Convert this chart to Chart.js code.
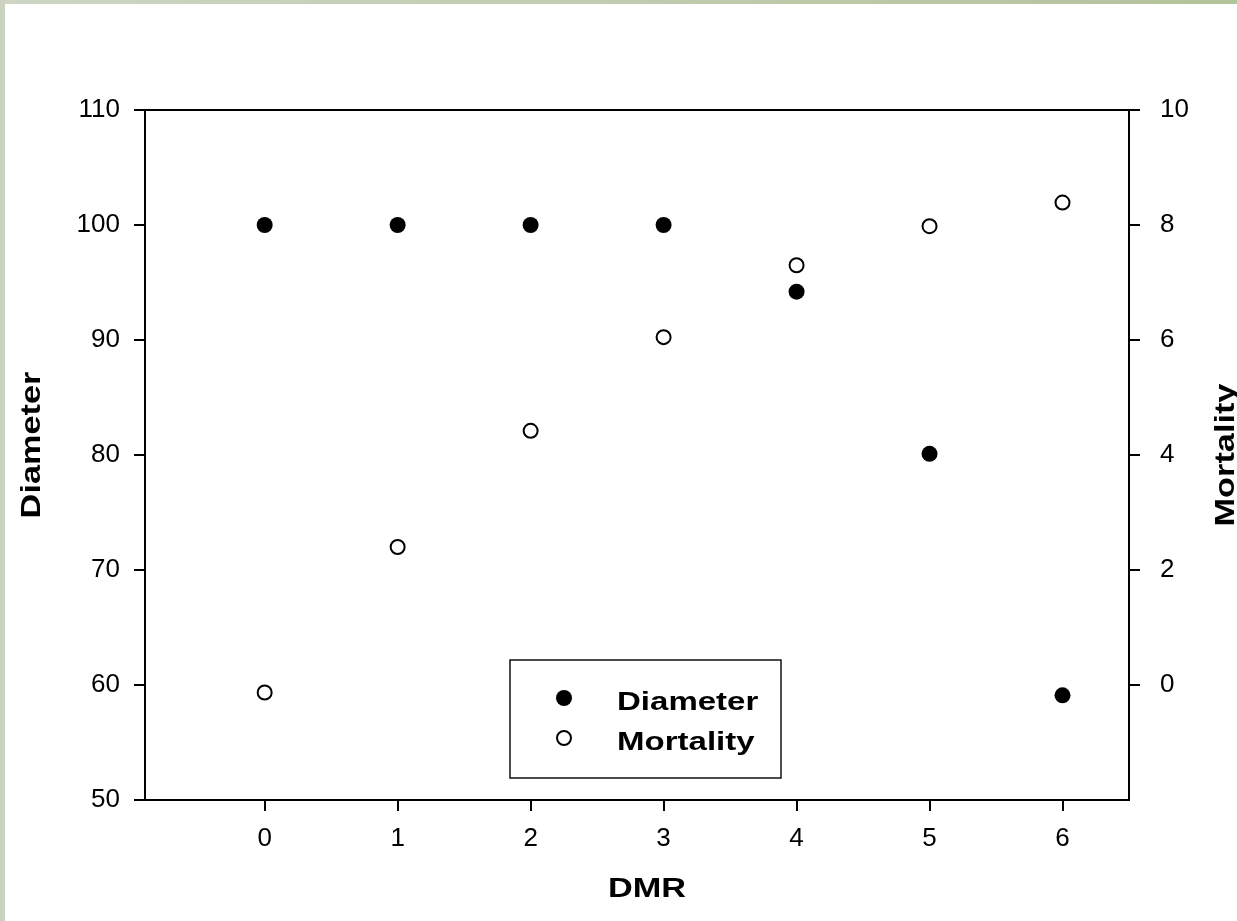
<!DOCTYPE html>
<html><head><meta charset="utf-8">
<script src="https://cdn.jsdelivr.net/npm/chart.js@4.4.0/dist/chart.umd.min.js"></script>
<style>html,body{margin:0;padding:0;background:#fff;overflow:hidden}#wrap{width:1237px;height:921px;position:relative}canvas{display:block}</style>
</head><body><div id="wrap"><canvas id="c" width="1237" height="921"></canvas></div>
<script>
const dmr = [0, 1, 2, 3, 4, 5, 6];
const diameter = [100, 100, 100, 100, 94.2, 80.1, 59.1];
const mortality = [-0.13, 2.4, 4.42, 6.05, 7.3, 7.98, 8.39];
const xTicks = [0, 1, 2, 3, 4, 5, 6];
const leftTicks = [50, 60, 70, 80, 90, 100, 110];
const rightTicks = [0, 2, 4, 6, 8, 10];
const xTitle = 'DMR';
const leftTitle = 'Diameter';
const rightTitle = 'Mortality';
const seriesNames = ['Diameter', 'Mortality'];

const FONT = '"Liberation Sans", Arial, sans-serif';
const tickFont = { family: FONT, size: 26 };
const STRETCH = 1.27;

function toPts(xs, ys) { return xs.map((x, i) => ({ x: x, y: ys[i] })); }

const deco = {
  id: 'deco',
  beforeDraw(chart) {
    const ctx = chart.ctx;
    ctx.save();
    ctx.fillStyle = '#fff';
    ctx.fillRect(0, 0, chart.width, chart.height);
    const g = ctx.createLinearGradient(0, 0, chart.width, 0);
    g.addColorStop(0, '#ced5c4');
    g.addColorStop(1, '#b3c39b');
    ctx.fillStyle = g;
    ctx.fillRect(0, 0, chart.width, 4);
    ctx.fillStyle = '#cbd2c0';
    ctx.fillRect(0, 0, 5, chart.height);
    ctx.restore();
  },
  afterDraw(chart) {
    const ctx = chart.ctx, a = chart.chartArea;
    ctx.save();
    ctx.strokeStyle = '#000';
    ctx.lineWidth = 2;
    ctx.beginPath();
    ctx.moveTo(a.left - 1, a.top);
    ctx.lineTo(a.right + 1, a.top);
    ctx.stroke();

    ctx.fillStyle = '#000';
    ctx.font = 'bold 27px ' + FONT;
    ctx.textAlign = 'center';
    ctx.textBaseline = 'middle';
    // x title
    ctx.save();
    ctx.translate((a.left + a.right) / 2 + 10, 890);
    ctx.scale(STRETCH, 1);
    ctx.fillText(xTitle, 0, 0);
    ctx.restore();
    // left title
    ctx.save();
    ctx.translate(33, (a.top + a.bottom) / 2 - 10);
    ctx.rotate(-Math.PI / 2);
    ctx.scale(STRETCH, 1);
    ctx.fillText(leftTitle, 0, 0);
    ctx.restore();
    // right title
    ctx.save();
    ctx.translate(1227, (a.top + a.bottom) / 2);
    ctx.rotate(-Math.PI / 2);
    ctx.scale(STRETCH, 1);
    ctx.fillText(rightTitle, 0, 0);
    ctx.restore();

    // legend
    const bx = 510, by = 660, bw = 271, bh = 118;
    ctx.lineWidth = 1.5;
    ctx.strokeStyle = '#111';
    ctx.strokeRect(bx, by, bw, bh);
    const ds = chart.data.datasets;
    const rows = [698, 738];
    ds.forEach((d, i) => {
      const cy = rows[i], cx = 564;
      ctx.beginPath();
      ctx.arc(cx, cy, d.pointRadius, 0, Math.PI * 2);
      ctx.fillStyle = d.backgroundColor;
      ctx.fill();
      if (d.borderWidth) {
        ctx.lineWidth = d.borderWidth;
        ctx.strokeStyle = d.borderColor;
        ctx.stroke();
      }
      ctx.save();
      ctx.fillStyle = '#000';
      ctx.textAlign = 'left';
      ctx.textBaseline = 'alphabetic';
      ctx.font = 'bold 26px ' + FONT;
      ctx.translate(617, cy + 12);
      ctx.scale(STRETCH, 1);
      ctx.fillText(seriesNames[i], 0, 0);
      ctx.restore();
    });
    ctx.restore();
  }
};

const tickCfg = (ticks) => (s) => { s.ticks = ticks.map(v => ({ value: v })); };
const gridCfg = { drawOnChartArea: false, drawTicks: true, tickLength: 11, color: '#000', lineWidth: 2 };
const borderCfg = { display: true, color: '#000', width: 2 };

new Chart(document.getElementById('c'), {
  type: 'scatter',
  data: {
    datasets: [
      { label: seriesNames[0], data: toPts(dmr, diameter), yAxisID: 'y',
        pointRadius: 8, pointHoverRadius: 8, backgroundColor: '#000', borderColor: '#000', borderWidth: 0, pointStyle: 'circle' },
      { label: seriesNames[1], data: toPts(dmr, mortality), yAxisID: 'y2',
        pointRadius: 7, pointHoverRadius: 7, backgroundColor: '#fff', borderColor: '#000', borderWidth: 2, pointStyle: 'circle' }
    ]
  },
  options: {
    responsive: false,
    animation: false,
    devicePixelRatio: 1,
    layout: { padding: { top: 110, left: 0, right: 0, bottom: 0 } },
    plugins: { legend: { display: false }, tooltip: { enabled: false } },
    scales: {
      x: {
        type: 'linear', min: -0.9, max: 6.5,
        afterBuildTicks: tickCfg(xTicks),
        afterFit: (s) => { s.height = 121; },
        grid: gridCfg, border: borderCfg,
        ticks: { font: tickFont, color: '#000', padding: 12, maxRotation: 0 }
      },
      y: {
        position: 'left', min: 50, max: 110,
        afterBuildTicks: tickCfg(leftTicks),
        afterFit: (s) => { s.width = 145; },
        grid: gridCfg, border: borderCfg,
        ticks: { font: tickFont, color: '#000', padding: 14 }
      },
      y2: {
        position: 'right', min: -2, max: 10,
        afterBuildTicks: tickCfg(rightTicks),
        afterFit: (s) => { s.width = 108; },
        grid: gridCfg, border: borderCfg,
        ticks: { font: tickFont, color: '#000', padding: 20 }
      }
    }
  },
  plugins: [deco]
});
</script></body></html>
